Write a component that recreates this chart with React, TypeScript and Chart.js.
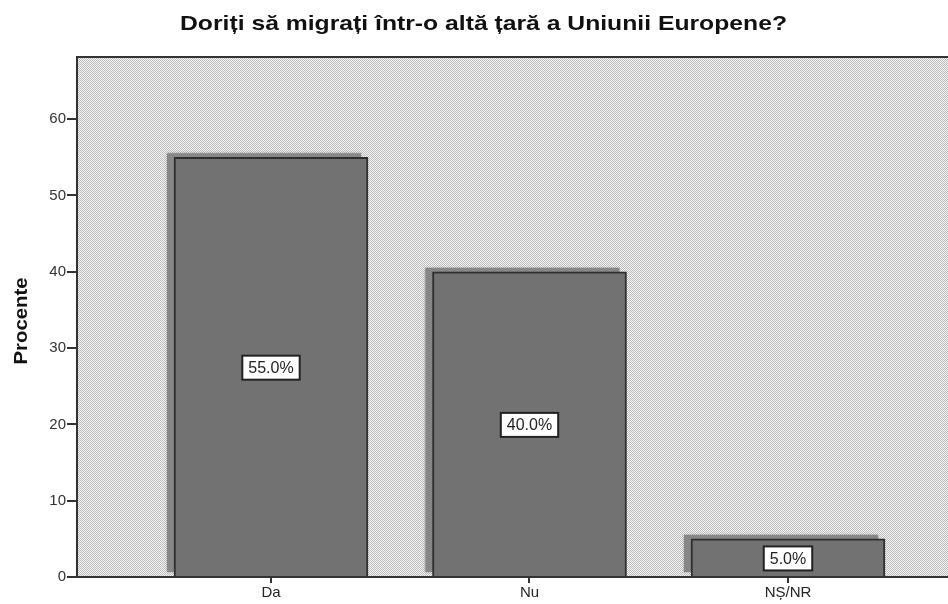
import React, { useEffect, useRef } from "react";
import { Chart, registerables } from "chart.js";

Chart.register(...registerables);

const TITLE = "Doriți să migrați într-o altă țară a Uniunii Europene?";
const Y_LABEL = "Procente";
const CATEGORIES = ["Da", "Nu", "NȘ/NR"];
const VALUES = [55.0, 40.0, 5.0];
const Y_TICKS = [0, 10, 20, 30, 40, 50, 60];

const FONT = "'Liberation Sans', Arial, sans-serif";

function makePattern(ctx: CanvasRenderingContext2D) {
  const c = document.createElement("canvas");
  c.width = 2;
  c.height = 2;
  const p = c.getContext("2d")!;
  p.fillStyle = "#f4f4f4";
  p.fillRect(0, 0, 2, 2);
  p.fillStyle = "#bcbcbc";
  p.fillRect(0, 0, 1, 1);
  p.fillRect(1, 1, 1, 1);
  return ctx.createPattern(c, "repeat")!;
}

const decorPlugin = {
  id: "decor",
  beforeDraw(chart: any) {
    const { ctx, chartArea } = chart;
    ctx.save();
    ctx.fillStyle = "#ffffff";
    ctx.fillRect(0, 0, chart.width, chart.height);
    ctx.fillStyle = makePattern(ctx);
    ctx.fillRect(chartArea.left, chartArea.top, chartArea.right - chartArea.left, chartArea.bottom - chartArea.top);
    // title
    ctx.fillStyle = "#111";
    ctx.font = `bold 21px ${FONT}`;
    ctx.textAlign = "center";
    ctx.textBaseline = "alphabetic";
    const tw = ctx.measureText(TITLE).width;
    ctx.save();
    ctx.translate(483.5, 30);
    ctx.scale(607 / tw, 1);
    ctx.fillText(TITLE, 0, 0);
    ctx.restore();
    // y label
    ctx.font = `bold 19px ${FONT}`;
    const lw = ctx.measureText(Y_LABEL).width;
    ctx.translate(27, 321);
    ctx.rotate(-Math.PI / 2);
    ctx.scale(87 / lw, 1);
    ctx.fillText(Y_LABEL, 0, 0);
    ctx.restore();
  },
  beforeDatasetsDraw(chart: any) {
    const { ctx } = chart;
    const meta = chart.getDatasetMeta(0);
    ctx.save();
    ctx.fillStyle = "#878787";
    ctx.shadowColor = "rgba(130,130,130,0.7)";
    ctx.shadowBlur = 2;
    meta.data.forEach((bar: any) => {
      const w = bar.width;
      ctx.fillRect(bar.x - w / 2 - 7, bar.y - 4, w, bar.base - bar.y);
    });
    ctx.restore();
  },
  afterDatasetsDraw(chart: any) {
    const { ctx, chartArea } = chart;
    const meta = chart.getDatasetMeta(0);
    ctx.save();
    ctx.font = `16px ${FONT}`;
    ctx.textAlign = "center";
    ctx.textBaseline = "middle";
    meta.data.forEach((bar: any, i: number) => {
      const label = VALUES[i].toFixed(1) + "%";
      const cy = (bar.y + bar.base) / 2 + 1;
      const tw = ctx.measureText(label).width;
      const bw = tw + 12;
      const bh = 24;
      ctx.fillStyle = "#ffffff";
      ctx.fillRect(bar.x - bw / 2, cy - bh / 2, bw, bh);
      ctx.strokeStyle = "#222";
      ctx.lineWidth = 2;
      ctx.strokeRect(bar.x - bw / 2, cy - bh / 2, bw, bh);
      ctx.fillStyle = "#222";
      ctx.fillText(label, bar.x, cy + 1);
    });
    // frame
    ctx.strokeStyle = "#333";
    ctx.lineWidth = 2;
    ctx.beginPath();
    ctx.moveTo(chartArea.left, chartArea.bottom);
    ctx.lineTo(chartArea.left, chartArea.top);
    ctx.lineTo(chartArea.right + 2, chartArea.top);
    ctx.moveTo(chartArea.left, chartArea.bottom);
    ctx.lineTo(chartArea.right + 2, chartArea.bottom);
    ctx.stroke();
    ctx.restore();
  },
};

export default function App() {
  const ref = useRef<HTMLCanvasElement>(null);
  useEffect(() => {
    const chart = new Chart(ref.current!, {
      type: "bar",
      data: {
        datasets: [
          {
            data: VALUES.map((v, i) => ({ x: i + 1, y: v })),
            backgroundColor: "#727272",
            borderColor: "#2e2e2e",
            borderWidth: { top: 2, left: 2, right: 2, bottom: 0 },
            borderSkipped: false,
            barThickness: 194,
          } as any,
        ],
      },
      options: {
        responsive: false,
        animation: false,
        events: [],
        layout: { padding: { top: 57, left: 0, right: 0, bottom: 0 } },
        plugins: { legend: { display: false }, title: { display: false }, tooltip: { enabled: false } },
        scales: {
          x: {
            type: "linear",
            offset: false,
            min: 0.2495,
            max: 3.619,
            afterBuildTicks: (scale: any) => {
              scale.ticks = CATEGORIES.map((_, i) => ({ value: i + 1 }));
            },
            afterFit: (scale: any) => {
              scale.height = 27;
            },
            ticks: {
              autoSkip: false,
              maxRotation: 0,
              padding: 1,
              color: "#222",
              font: { family: FONT, size: 15 },
              callback: (v: any) => CATEGORIES[Math.round(v) - 1] ?? "",
            },
            grid: { offset: false, drawOnChartArea: false, drawTicks: true, tickLength: 6, color: "#333", lineWidth: 2 },
            border: { display: false },
          },
          y: {
            min: 0,
            max: 68.15,
            afterBuildTicks: (scale: any) => {
              scale.ticks = Y_TICKS.map((v) => ({ value: v }));
            },
            afterFit: (scale: any) => {
              scale.width = 77;
            },
            ticks: {
              padding: 1,
              color: "#333",
              font: { family: FONT, size: 15 },
            },
            grid: { drawOnChartArea: false, drawTicks: true, tickLength: 10, color: "#333", lineWidth: 2 },
            border: { display: false },
          },
        },
      },
      plugins: [decorPlugin],
    } as any);
    return () => chart.destroy();
  }, []);
  return (
    <div style={{ position: "fixed", left: 0, top: 0, width: 948, height: 604, background: "#fff" }}>
      <canvas ref={ref} width={948} height={604} style={{ display: "block" }} />
    </div>
  );
}
